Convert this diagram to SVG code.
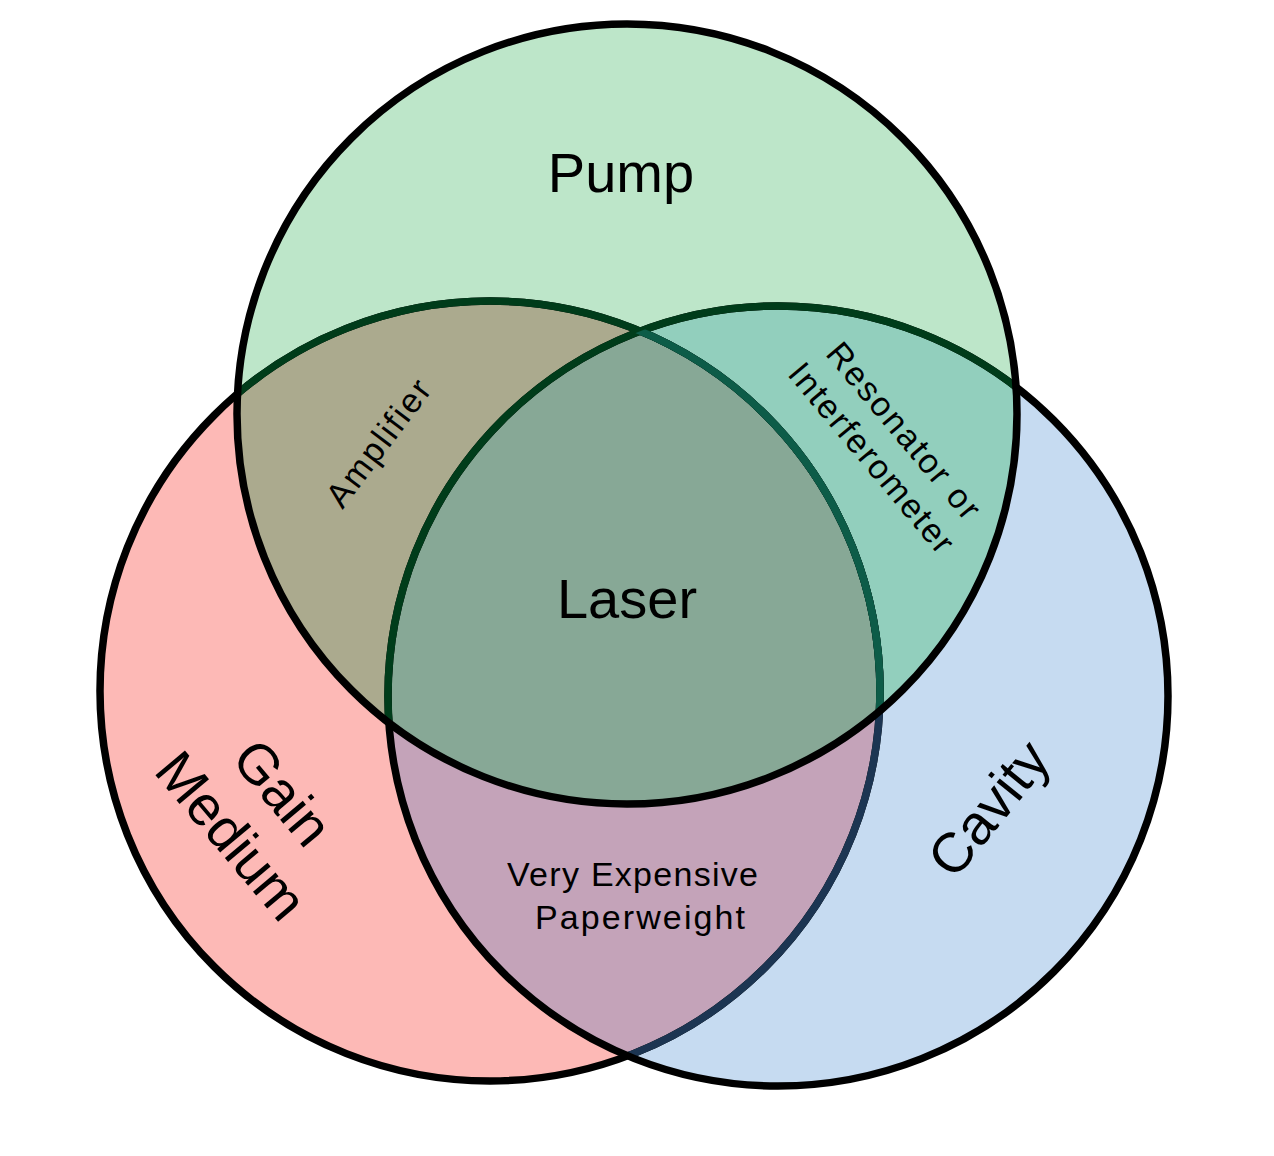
<svg xmlns="http://www.w3.org/2000/svg" width="1274" height="1156" viewBox="0 0 1274 1156">
<style>
.lbl{font-family:"Liberation Sans",Arial,sans-serif;fill:#000}
.big{font-size:56px}
.sm{font-size:34px}
.ring{fill:none;stroke-width:7.5}
</style>
<defs>
<circle id="cG" cx="490" cy="691" r="390"/>
<circle id="cB" cx="778" cy="696" r="390"/>
<circle id="cP" cx="627" cy="414" r="390"/>
<clipPath id="inG"><use href="#cG"/></clipPath>
<clipPath id="inB"><use href="#cB"/></clipPath>
<clipPath id="inP"><use href="#cP"/></clipPath>
</defs>
<rect width="1274" height="1156" fill="#fff"/>
<g id="fills">
<use href="#cG" fill="#fdb9b6"/>
<use href="#cB" fill="#c6dbf1"/>
<g clip-path="url(#inG)"><use href="#cB" fill="#c4a3b9"/></g>
<use href="#cP" fill="#bde6c9"/>
<g clip-path="url(#inP)">
<use href="#cG" fill="#abaa8e"/>
<use href="#cB" fill="#92cfbd"/>
<g clip-path="url(#inG)"><use href="#cB" fill="#87a896"/></g>
</g>
</g>
<g id="connectors" class="ring">
<use href="#cG" stroke="#000"/>
<g clip-path="url(#inB)"><use href="#cG" stroke="#1c3552"/></g>
<use href="#cB" stroke="#000"/>
<g clip-path="url(#inP)">
<use href="#cG" stroke="#003c1a"/>
<use href="#cB" stroke="#003c1a"/>
<g clip-path="url(#inB)"><use href="#cG" stroke="#0d5c48"/></g>
</g>
<use href="#cP" stroke="#000"/>
</g>
<g id="pump"><text class="lbl big" x="621" y="192" text-anchor="middle">Pump</text></g>
<g id="gain"><g transform="translate(257,814) rotate(50)">
<text class="lbl big" x="0" y="-14" text-anchor="middle">Gain</text>
<text class="lbl big" x="0" y="53" text-anchor="middle">Medium</text>
</g></g>
<g id="cavity"><text class="lbl big" transform="translate(988,808) rotate(-51)" x="0" y="20" text-anchor="middle">Cavity</text></g>
<g id="amplifier"><text class="lbl sm" transform="translate(378,443) rotate(-53)" x="0" y="12" text-anchor="middle" textLength="150" lengthAdjust="spacing">Amplifier</text></g>
<g id="resonator"><g transform="translate(888,444) rotate(50)">
<text class="lbl sm" x="0" y="-9" text-anchor="middle" textLength="219" lengthAdjust="spacing">Resonator or</text>
<text class="lbl sm" x="0" y="33" text-anchor="middle" textLength="237" lengthAdjust="spacing">Interferometer</text>
</g></g>
<g id="laser"><text class="lbl big" x="627" y="618" text-anchor="middle">Laser</text></g>
<g id="paperweight">
<text class="lbl sm" x="507" y="886" textLength="251" lengthAdjust="spacing">Very Expensive</text>
<text class="lbl sm" x="535" y="929" textLength="210" lengthAdjust="spacing">Paperweight</text>
</g>
</svg>
